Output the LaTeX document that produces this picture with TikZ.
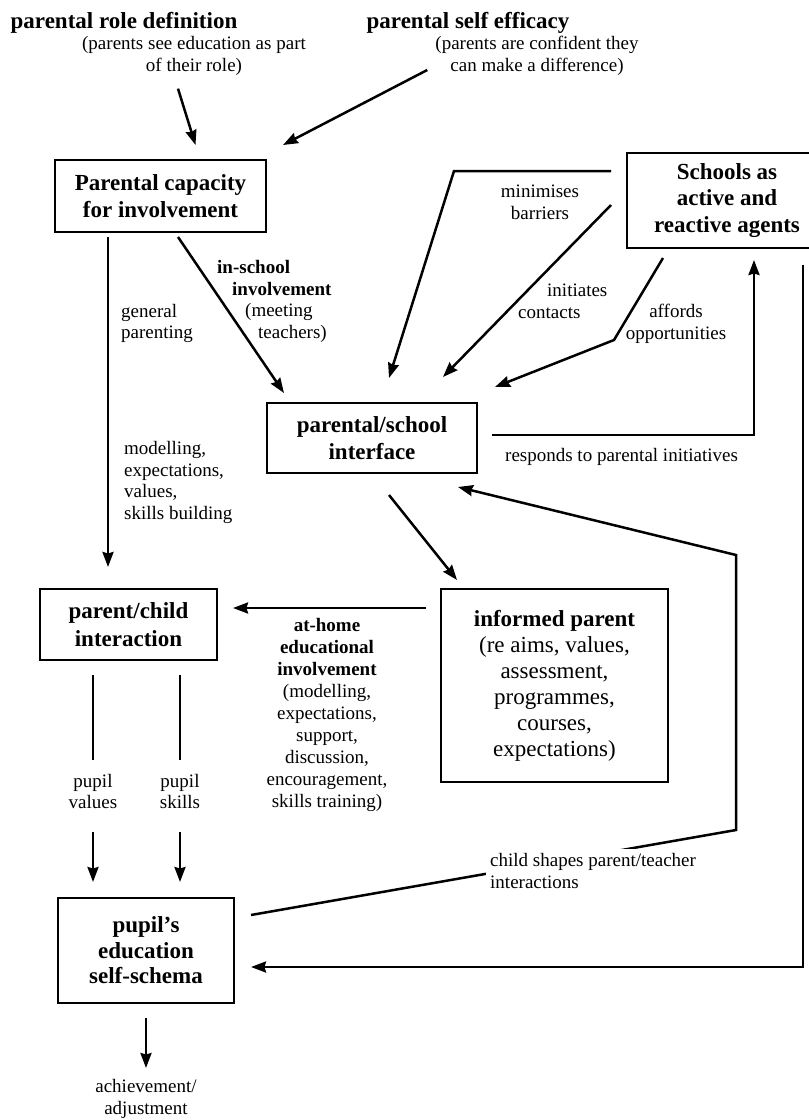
\documentclass[tikz,border=0pt]{standalone}
\usepackage{fontspec}
\setmainfont{Liberation Serif}
\usepackage{tikz}
\usetikzlibrary{calc,arrows.meta}
\tikzset{
	box/.style={draw, line width=2.8pt, outer sep=0pt, inner sep=0pt, align=center, font=\bfseries\fontsize{23}{27.5}\selectfont},
	title/.style={inner sep=0pt, font=\bfseries\fontsize{23}{27}\selectfont},
	lbl/.style={inner sep=0pt, align=center, font=\fontsize{19}{21.7}\selectfont},
	ln/.style={line width=2.5pt},
	arr/.style={line width=2.5pt, -{Stealth[length=15pt,width=11pt,inset=1.5pt]}}
}

\begin{document}
\begin{tikzpicture}[x=1pt,y=-1pt]
			%%%%% START %%%%%
			
			\path[use as bounding box, fill=white] (0,0) rectangle (809,1120);
			
			\node[title] (roletitle) at (124,23) {parental role definition};
			\node[lbl] (rolesub) at (194,56) {(parents see education as part\\of their role)};
			\node[title] (efftitle) at (468,23) {parental self efficacy};
			\node[lbl] (effsub) at (537,56) {(parents are confident they\\can make a difference)};
			
			\node[box, minimum width=211pt, minimum height=72pt] (pcap) at (160.5,196) {Parental capacity\\for involvement};
			\node[box, minimum width=200pt, minimum height=95pt, font=\bfseries\fontsize{23}{26.5}\selectfont] (schools) at (727,200.5) {Schools as\\active and\\reactive agents};
			\node[box, minimum width=210pt, minimum height=70pt] (iface) at (372,438) {parental/school\\interface};
			\node[box, minimum width=177pt, minimum height=71pt] (pchild) at (128.5,624.5) {parent/child\\interaction};
			\node[box, minimum width=227pt, minimum height=193pt, font=\bfseries\fontsize{23}{26}\selectfont] (informed) at (554.5,685.5) {informed parent\\\mdseries(re aims, values,\\\mdseries assessment,\\\mdseries programmes,\\\mdseries courses,\\\mdseries expectations)};
			\node[box, minimum width=176pt, minimum height=105pt, font=\bfseries\fontsize{23}{25.5}\selectfont] (schema) at (146,950.5) {pupil's\\education\\self-schema};
			
			% arrows into the capacity box
			\draw[arr] ($(rolesub.south)+(-16,13)$) -- ($(pcap.north)+(35,-15)$);
			\draw[arr] ($(effsub.west)+(-8,14)$) -- ($(pcap.north east)+(17,-15)$);
			
			% from the capacity box
			\draw[arr] ($(pcap.south)+(17.5,5)$) -- ($(iface.north west)+(17,-10)$);
			\draw[arr] ($(pcap.south west)+(53,5)$) -- ($(pchild.north west)+(68,-22)$);
			\node[lbl, anchor=west, align=left] (general) at (121,323.5) {general\\parenting};
			\node[lbl, anchor=west, align=left] (inschool) at (217,301.5) {\textbf{in-school}\\\hspace*{15pt}\textbf{involvement}\\\hspace*{28pt}(meeting\\\hspace*{41pt}teachers)};
			\node[lbl, anchor=west, align=left] (modelling) at (124,482.5) {modelling,\\expectations,\\values,\\skills building};
			
			% from the schools box
			\draw[arr] ($(schools.north west)+(-16,18)$) -- ++(-157,0) -- ($(iface.north)+(17,-25)$);
			\draw[arr] ($(schools.west)+(-16,4.5)$) -- ($(iface.north)+(71,-26)$);
			\draw[arr] ($(schools.south west)+(36,10)$) -- ++(-49,82) -- ($(iface.north east)+(18,-16)$);
			\node[lbl] (minimises) at (540,202.5) {minimises\\barriers};
			\node[lbl, anchor=west, align=left] (initiates) at (518,301.5) {\hspace*{29pt}initiates\\contacts};
			\node[lbl] (affords) at (676,323.5) {affords\\opportunities};
			
			\draw[arr] ($(iface.east)+(15,-3)$) -- ++(262,0) -- ($(schools.south)+(27,12)$);
			\node[lbl, anchor=west] (responds) at (505,457) {responds to parental initiatives};
			
			% interface, informed parent, parent/child
			\draw[arr] ($(iface.south)+(17,22)$) -- ($(informed.north west)+(16,-9)$);
			\draw[arr] ($(informed.north west)+(-15,19)$) -- ($(pchild.north east)+(16,19)$);
			\node[lbl, font=\fontsize{19}{22}\selectfont] (athome) at (327,715) {\textbf{at-home}\\\textbf{educational}\\\textbf{involvement}\\(modelling,\\expectations,\\support,\\discussion,\\encouragement,\\skills training)};
			
			% pupil values and skills
			\draw[ln] ($(pchild.south west)+(53,15)$) -- ++(0,85);
			\draw[ln] ($(pchild.south west)+(140,15)$) -- ++(0,85);
			\node[lbl] (pvalues) at (93,791.5) {pupil\\values};
			\node[lbl] (pskills) at (180,791.5) {pupil\\skills};
			\draw[arr] ($(schema.north west)+(35,-66)$) -- ++(0,50);
			\draw[arr] ($(schema.north west)+(122,-66)$) -- ++(0,50);
			
			% child back to the interface
			\draw[arr] ($(schema.north east)+(17,17)$) -- ++(485,-85) -- ++(0,-275) -- ($(iface.south east)+(-19,14)$);
			\node[lbl, anchor=west, align=left, fill=white, inner sep=4pt] (shapes) at (486,871) {child shapes parent/teacher\\interactions};
			
			% schools down to the pupil
			\draw[arr] ($(schools.south)+(76,17)$) |- ($(schema.east)+(17,16.5)$);
			
			\draw[arr] ($(schema.south)+(0,15)$) -- ++(0,50);
			\node[lbl] (achieve) at (146,1099) {achievement/\\adjustment};
			
			%%%%% END %%%%%
\end{tikzpicture}
\end{document}
